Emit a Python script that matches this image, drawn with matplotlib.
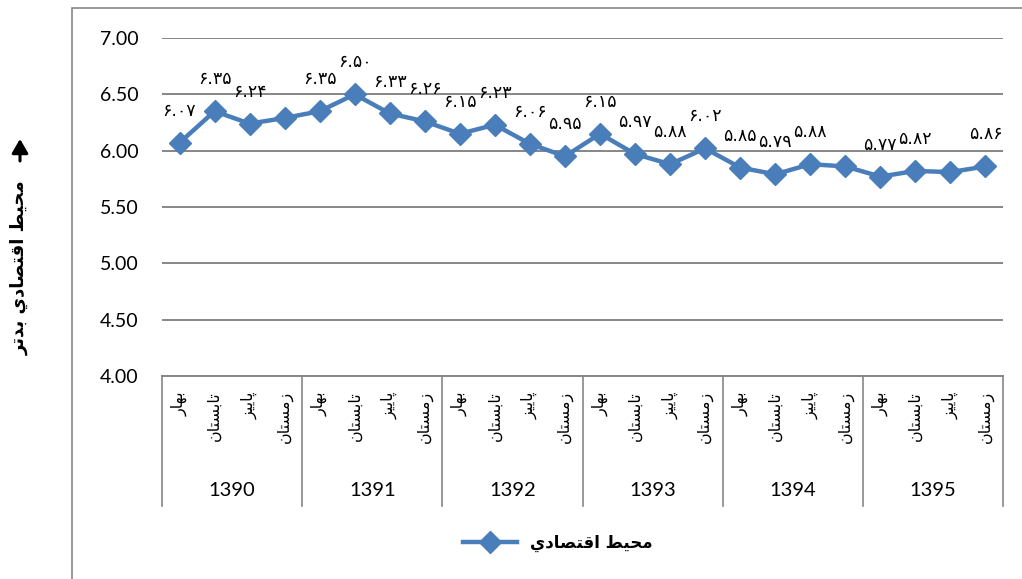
import matplotlib
matplotlib.use("Agg")
import matplotlib.pyplot as plt
from matplotlib.lines import Line2D
from matplotlib.patches import Rectangle, FancyArrowPatch

# data
years = ["1390", "1391", "1392", "1393", "1394", "1395"]
seasons = ["بهار", "تابستان", "پاییز", "زمستان"]
values = [6.07, 6.35, 6.24, 6.29,
          6.35, 6.50, 6.33, 6.26,
          6.15, 6.23, 6.06, 5.95,
          6.15, 5.97, 5.88, 6.02,
          5.85, 5.79, 5.88, 5.86,
          5.77, 5.82, 5.81, 5.86]
no_label = [3, 19, 22]
series_name = "محيط اقتصادي"
y_title = "محيط اقتصادي بدتر"

# simple arabic shaping (matplotlib has no bidi / joining)
FORMS = {
    "ا": ("\uFE8D", "\uFE8E", None, None),
    "ب": ("\uFE8F", "\uFE90", "\uFE91", "\uFE92"),
    "پ": ("\uFB56", "\uFB57", "\uFB58", "\uFB59"),
    "ت": ("\uFE95", "\uFE96", "\uFE97", "\uFE98"),
    "ح": ("\uFEA1", "\uFEA2", "\uFEA3", "\uFEA4"),
    "د": ("\uFEA9", "\uFEAA", None, None),
    "ر": ("\uFEAD", "\uFEAE", None, None),
    "ز": ("\uFEAF", "\uFEB0", None, None),
    "س": ("\uFEB1", "\uFEB2", "\uFEB3", "\uFEB4"),
    "ص": ("\uFEB9", "\uFEBA", "\uFEBB", "\uFEBC"),
    "ط": ("\uFEC1", "\uFEC2", "\uFEC3", "\uFEC4"),
    "ق": ("\uFED5", "\uFED6", "\uFED7", "\uFED8"),
    "م": ("\uFEE1", "\uFEE2", "\uFEE3", "\uFEE4"),
    "ن": ("\uFEE5", "\uFEE6", "\uFEE7", "\uFEE8"),
    "ه": ("\uFEE9", "\uFEEA", "\uFEEB", "\uFEEC"),
    "ي": ("\uFEF1", "\uFEF2", "\uFEF3", "\uFEF4"),
    "ی": ("\uFEF1", "\uFEF2", "\uFEF3", "\uFEF4"),
}


def shape_word(w):
    out = []
    for i, c in enumerate(w):
        f = FORMS.get(c)
        if f is None:
            out.append(c)
            continue
        prev = i > 0 and w[i - 1] in FORMS and FORMS[w[i - 1]][2] is not None
        nxt = i < len(w) - 1 and w[i + 1] in FORMS and f[2] is not None
        if prev and nxt:
            out.append(f[3])
        elif prev:
            out.append(f[1])
        elif nxt:
            out.append(f[2])
        else:
            out.append(f[0])
    return "".join(out)


def rtl(s):
    return " ".join(shape_word(w) for w in s.split(" "))[::-1]


def fa_num(v):
    return f"{v:.2f}".translate(str.maketrans("0123456789", "۰۱۲۳۴۵۶۷۸۹"))


plt.rcParams["font.family"] = ["Lato", "DejaVu Sans"]

W, H = 1022, 579
fig = plt.figure(figsize=(W / 100, H / 100), dpi=100)
ax = fig.add_axes([162 / W, 1 - 376 / H, (1003 - 162) / W, (376 - 38) / H])

blue = "#4A7EBB"
grey = "#868686"

x = list(range(len(values)))
ax.plot(x, values, color=blue, lw=3.2, marker="D", markersize=11,
        markerfacecolor=blue, markeredgecolor=blue)

for i, v in enumerate(values):
    if i in no_label:
        continue
    ax.annotate(fa_num(v), (i, v), xytext=(0, 23), textcoords="offset points",
                ha="center", va="center", fontsize=12.5, family=["DejaVu Sans"])

ax.set_xlim(-0.5, len(values) - 0.5)
ax.set_ylim(4, 7)
ax.set_yticks([4, 4.5, 5, 5.5, 6, 6.5, 7])
ax.set_yticklabels([f"{t:.2f}" for t in [4, 4.5, 5, 5.5, 6, 6.5, 7]], fontsize=14)
ax.set_xticks([])
ax.tick_params(axis="y", length=0, pad=17)
ax.grid(axis="y", color=grey, lw=1.4)
ax.set_axisbelow(True)
for s in ["left", "right", "top"]:
    ax.spines[s].set_visible(False)
ax.spines["bottom"].set_color(grey)
ax.spines["bottom"].set_linewidth(1.4)

# category axis: seasons + years
tr = ax.get_xaxis_transform()
for k in range(len(years) + 1):
    xb = k * 4 - 0.5
    ax.plot([xb, xb], [0, -0.385], transform=tr, color=grey, lw=1.2, clip_on=False)
for i in x:
    ax.text(i, -0.045, rtl(seasons[i % 4]), transform=tr, rotation=90,
            ha="center", va="top", fontsize=11.5, family=["DejaVu Sans"])
for k, yr in enumerate(years):
    ax.text(k * 4 + 1.5, -0.34, yr, transform=tr, ha="center", va="center", fontsize=14.5)

# y title with arrow
fig.text(20 / W, 1 - 268 / H, rtl(y_title), rotation=90,
         ha="center", va="center", fontsize=13, fontweight="bold", family=["DejaVu Sans"])
fig.add_artist(FancyArrowPatch(
    (20 / W, 1 - 161 / H), (20 / W, 1 - 139 / H), transform=fig.transFigure,
    arrowstyle="-|>,head_length=0.6,head_width=0.35", mutation_scale=14,
    shrinkA=0, shrinkB=0, lw=2.2, color="black"))

# legend
handle = Line2D([], [], color=blue, lw=3.2, marker="D", markersize=11)
leg = fig.legend([handle], [rtl(series_name)], loc="center",
                 bbox_to_anchor=(558 / W, 1 - 543 / H), frameon=False,
                 handlelength=3.2, prop={"family": "DejaVu Sans", "weight": "bold", "size": 12})

# chart border
fig.patches.append(Rectangle((72 / W, -0.02), 1.0, (H - 8) / H + 0.02,
                             transform=fig.transFigure, fill=False, edgecolor=grey, lw=1.2))

fig.savefig("out.png", dpi=100)
